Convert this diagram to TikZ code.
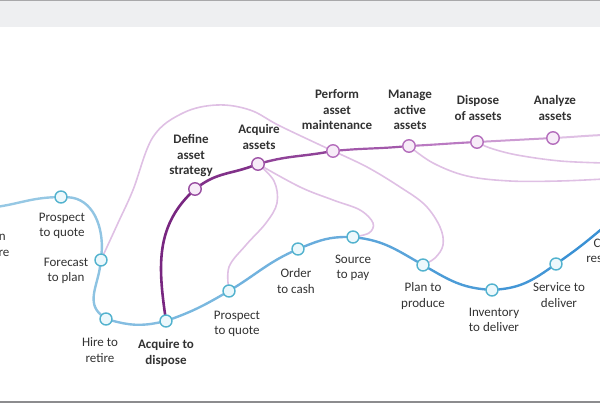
\documentclass[tikz,border=0pt]{standalone}
\usepackage{fontspec}
\setmainfont{Carlito}
\usetikzlibrary{backgrounds}
\definecolor{bluelight}{RGB}{150,200,228}
\definecolor{bluedark}{RGB}{58,145,212}
\definecolor{bluering}{RGB}{82,178,206}
\definecolor{bluefill}{RGB}{236,248,252}
\definecolor{purpdark}{RGB}{120,38,128}
\definecolor{purpmid}{RGB}{180,110,188}
\definecolor{purplight}{RGB}{223,192,228}
\definecolor{purpfill}{RGB}{247,236,248}
\definecolor{txt}{RGB}{50,50,50}
\definecolor{headfill}{RGB}{238,239,241}
\definecolor{headline}{RGB}{168,168,170}
\definecolor{footline}{RGB}{140,140,142}

\begin{document}
\begin{tikzpicture}[x=1pt,y=1pt,
	bstop/.style={circle,draw=bluering,fill=bluefill,line width=1.4pt,minimum size=12pt,inner sep=0pt},
	pstop/.style={circle,draw=purpmid,fill=purpfill,line width=1.4pt,minimum size=12.5pt,inner sep=0pt},
	lbl/.style={align=center,inner sep=0pt,text=txt,font=\fontsize{13}{15.5}\selectfont},
	blbl/.style={lbl,font=\fontsize{13}{15.5}\selectfont\bfseries},
	bline/.style={line width=2.4pt,line cap=round},
	branch/.style={purplight,line width=1.6pt,line cap=round}]
		\useasboundingbox (0,0) rectangle (600,403);
		\clip (0,0) rectangle (600,403);
		% window frame
		\fill[headfill] (0,376) rectangle (600,403);
		\draw[headline,line width=1.5pt] (0,402.4) -- (600,402.4);
		\draw[footline,line width=1.5pt] (0,0.8) -- (600,0.8);
		% blue stops
		\coordinate (bstart) at (-4,196);
		\node[bstop] (pqa) at (61,206) {};
		\node[bstop] (fp) at (101,143) {};
		\node[bstop] (hr) at (106,84) {};
		\node[bstop] (ad) at (166,82) {};
		\node[bstop] (pqb) at (229,112) {};
		\node[bstop] (oc) at (298,154) {};
		\node[bstop] (sp) at (353,166) {};
		\node[bstop] (pp) at (423,138) {};
		\node[bstop] (id) at (492,113) {};
		\node[bstop] (sd) at (556,139) {};
		\coordinate (bend) at (604,176);
		% purple stops
		\node[pstop,draw=purpdark!45!purpmid] (das) at (195,214) {};
		\node[pstop,draw=purpdark!35!purpmid] (aa) at (258,239) {};
		\node[pstop] (pam) at (333,252) {};
		\node[pstop] (maa) at (409,257) {};
		\node[pstop] (doa) at (477,261) {};
		\node[pstop] (ana) at (553,265) {};
		\coordinate (pend) at (604,268);
		% labels
		\node[lbl] (ldtr) at (-12,159) {Design\\to retire};
		\node[lbl] (lpqa) at (62,177) {Prospect\\to quote};
		\node[lbl] (lfp) at (66,132) {Forecast\\to plan};
		\node[lbl] (lhr) at (100,53) {Hire to\\retire};
		\node[blbl] (lad) at (166,50) {Acquire to\\dispose};
		\node[lbl] (lpqb) at (237,79) {Prospect\\to quote};
		\node[lbl] (loc) at (296,122) {Order\\to cash};
		\node[lbl] (lsp) at (353,135) {Source\\to pay};
		\node[lbl] (lpp) at (423,107) {Plan to\\produce};
		\node[lbl] (lid) at (494,83) {Inventory\\to deliver};
		\node[lbl] (lsd) at (559,108) {Service to\\deliver};
		\node[lbl] (lctr) at (613,152) {Case to\\resolution};
		\node[blbl] (ldas) at (191,247) {Define\\asset\\strategy};
		\node[blbl] (laa) at (259,266) {Acquire\\assets};
		\node[blbl] (lpam) at (337,293) {Perform\\asset\\maintenance};
		\node[blbl] (lmaa) at (410,293) {Manage\\active\\assets};
		\node[blbl] (ldoa) at (478,295) {Dispose\\of assets};
		\node[blbl] (lana) at (555,295) {Analyze\\assets};
		\begin{scope}[on background layer]
		% thin branches
		\draw[branch] plot[smooth,tension=.6] coordinates {(fp) (118,180) (133,213) (153,266) (183,290) (217,298) (250,293) (280,277) (pam)};
		\draw[branch] plot[smooth,tension=.6] coordinates {(pam) (367,236) (400,216) (425,198) (440,176) (443,158) (435,145) (pp)};
		\draw[branch] plot[smooth,tension=.6] coordinates {(aa) (274,222) (277,200) (266,180) (246,158) (229,136) (pqb)};
		\draw[branch] plot[smooth,tension=.6] coordinates {(aa) (300,216) (333,203) (360,193) (373,180) (369,170) (sp)};
		\draw[branch] plot[smooth,tension=.6] coordinates {(maa) (433,240) (467,227) (510,222) (560,222) (604,224)};
		\draw[branch] plot[smooth,tension=.6] coordinates {(doa) (490,255) (517,248) (560,242) (604,240)};
		% blue main line
		\draw[bline,bluelight] (bstart) to[out=8,in=182] (pqa);
		\draw[bline,bluedark!5!bluelight] (pqa) to[out=-2,in=85] (fp);
		\draw[bline,bluedark!10!bluelight] (fp) to[out=-98,in=140] (hr);
		\draw[bline,bluedark!20!bluelight] (hr) to[out=-15,in=192] (ad);
		\draw[bline,bluedark!30!bluelight] (ad) to[out=20,in=210] (pqb);
		\draw[bline,bluedark!40!bluelight] (pqb) to[out=32,in=205] (oc);
		\draw[bline,bluedark!50!bluelight] (oc) to[out=22,in=180] (sp);
		\draw[bline,bluedark!65!bluelight] (sp) to[out=-8,in=150] (pp);
		\draw[bline,bluedark!80!bluelight] (pp) to[out=-30,in=175] (id);
		\draw[bline,bluedark!90!bluelight] (id) to[out=5,in=215] (sd);
		\draw[bline,bluedark] (sd) to[out=35,in=220] (bend);
		% purple main line
		\draw[bline,purpdark,line width=2.6pt] (ad) to[out=98,in=225] (das);
		\draw[bline,purpdark!85!purpmid,line width=2.6pt] (das) to[out=35,in=200] (aa);
		\draw[bline,purpdark!60!purpmid] (aa) to[out=15,in=190] (pam);
		\draw[bline,purpdark!30!purpmid,line width=2.2pt] (pam) to[out=5,in=185] (maa);
		\draw[bline,purpmid!85!purplight,line width=2.1pt] (maa) to[out=3,in=183] (doa);
		\draw[bline,purpmid!45!purplight,line width=2pt] (doa) to[out=3,in=183] (ana);
		\draw[bline,purplight,line width=2pt] (ana) to[out=3,in=182] (pend);
		\end{scope}
\end{tikzpicture}
\end{document}
